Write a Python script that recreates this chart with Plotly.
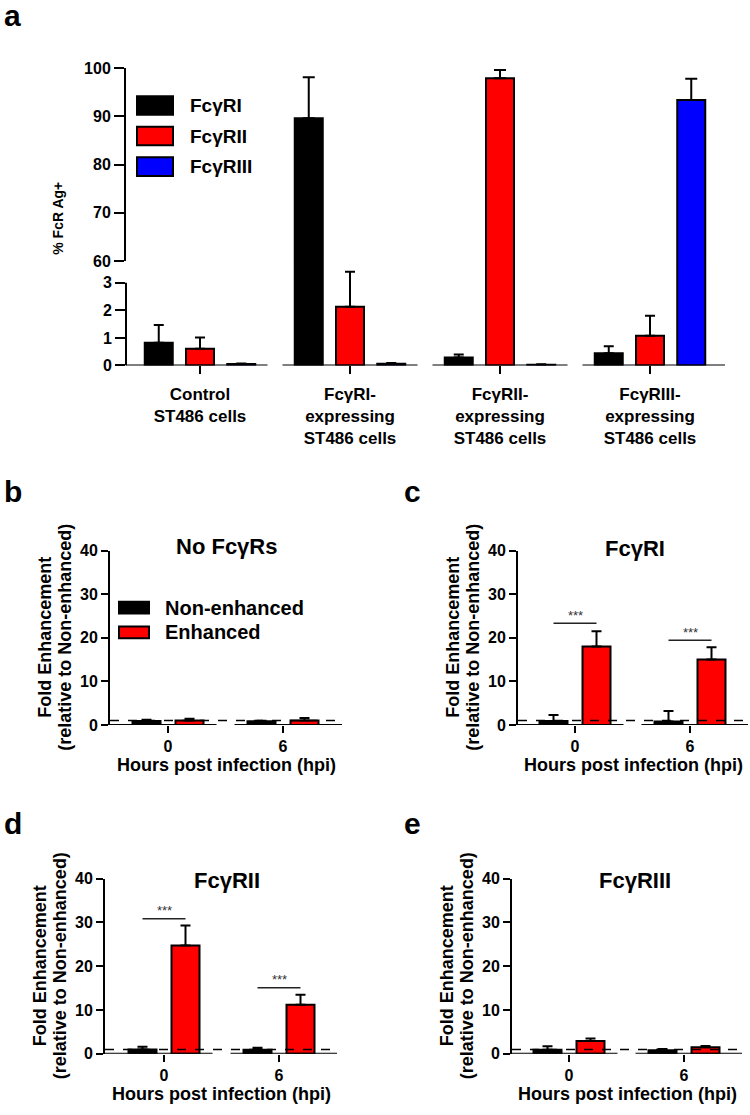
import plotly.graph_objects as go

W, H = 750, 1115
FONT = "Liberation Sans, Arial, Helvetica, sans-serif"
BLACK, RED, BLUE = "#000000", "#ff0000", "#0000ff"

# ---------------- data: panel a ----------------
cell_lines = ["Control<br>ST486 cells",
              "FcγRI-<br>expressing<br>ST486 cells",
              "FcγRII-<br>expressing<br>ST486 cells",
              "FcγRIII-<br>expressing<br>ST486 cells"]
receptors = ["FcγRI", "FcγRII", "FcγRIII"]
fcgr1_pct = [0.82, 89.6, 0.29, 0.44]
fcgr1_err = [0.65, 8.5, 0.11, 0.26]
fcgr2_pct = [0.61, 2.13, 97.9, 1.08]
fcgr2_err = [0.40, 1.27, 1.7, 0.72]
fcgr3_pct = [0.05, 0.06, 0.03, 93.4]
fcgr3_err = [0.02, 0.03, 0.01, 4.4]

# ---------------- data: panels b-e ----------------
hpi_labels = ["0", "6"]
conditions = ["Non-enhanced", "Enhanced"]
panel_titles = ["No FcγRs", "FcγRI", "FcγRII", "FcγRIII"]

nofcr_non = [0.9, 0.85]
nofcr_non_err = [0.3, 0.1]
nofcr_enh = [1.0, 1.0]
nofcr_enh_err = [0.4, 0.6]

fcr1_non = [0.9, 0.8]
fcr1_non_err = [1.4, 2.4]
fcr1_enh = [18.0, 15.0]
fcr1_enh_err = [3.5, 2.8]

fcr2_non = [1.0, 0.9]
fcr2_non_err = [0.6, 0.5]
fcr2_enh = [24.7, 11.2]
fcr2_enh_err = [4.6, 2.3]

fcr3_non = [0.9, 0.8]
fcr3_non_err = [0.8, 0.3]
fcr3_enh = [2.9, 1.5]
fcr3_enh_err = [0.6, 0.3]

sig_fcr1 = [23.3, 19.4]   # height of *** brackets
sig_fcr2 = [30.8, 15.1]
baseline_ref = 1.0        # dashed reference line


def px_x(p):
    return p / W


def px_y(p):
    return 1 - p / H


def bfont(size, color=BLACK, weight="bold"):
    return dict(family=FONT, size=size, color=color, weight=weight)


fig = go.Figure()
shapes = []
annotations = []

# ================= Panel a =================
A_X0, A_X1 = 126, 725
A_C0, A_STEP = 200, 150
a_range = [(A_X0 - A_C0) / A_STEP, (A_X1 - A_C0) / A_STEP]
A_LOW_BOT, A_LOW_3, A_SPLIT, A_TOP = 363, 279, 257, 61
low_top_val = (A_LOW_BOT - A_SPLIT) / ((A_LOW_BOT - A_LOW_3) / 3)

a_series = [(fcgr1_pct, fcgr1_err, BLACK), (fcgr2_pct, fcgr2_err, RED),
            (fcgr3_pct, fcgr3_err, BLUE)]
a_off = [-0.275, 0.0, 0.275]
a_w = 28 / A_STEP
xs = list(range(len(cell_lines)))
for (vals, errs, col), off, name in zip(a_series, a_off, receptors):
    low_err = [e if v + e < low_top_val else 0 for v, e in zip(vals, errs)]
    fig.add_trace(go.Bar(
        x=xs, y=vals, width=a_w, offset=off - a_w / 2, name=name,
        marker=dict(color=col, line=dict(color=BLACK, width=2)),
        error_y=dict(type="data", array=low_err, arrayminus=[0] * len(vals),
                     symmetric=False, color=BLACK, thickness=2, width=5),
        xaxis="x", yaxis="y", showlegend=False, hoverinfo="skip"))
    up_idx = [i for i, v in enumerate(vals) if v > 60]
    if up_idx:
        fig.add_trace(go.Bar(
            x=[xs[i] for i in up_idx], y=[vals[i] for i in up_idx],
            width=a_w, offset=off - a_w / 2, name=name,
            marker=dict(color=col, line=dict(color=BLACK, width=2)),
            error_y=dict(type="data", array=[errs[i] for i in up_idx],
                         arrayminus=[0] * len(up_idx), symmetric=False,
                         color=BLACK, thickness=2, width=6),
            xaxis="x2", yaxis="y2", showlegend=False, hoverinfo="skip"))

ax_common = dict(showgrid=False, zeroline=False, ticks="outside", tickwidth=2,
                 tickcolor=BLACK, linecolor=BLACK, linewidth=2, fixedrange=True)

layout = dict(
    xaxis=dict(domain=[px_x(A_X0), px_x(A_X1)], range=a_range, anchor="y",
               tickvals=xs, ticktext=cell_lines, ticklen=8, showline=False,
               tickfont=bfont(17), ticklabelstandoff=5, **ax_common),
    yaxis=dict(domain=[px_y(A_LOW_BOT), px_y(A_SPLIT)], range=[0, low_top_val],
               anchor="x", tickvals=[0, 1, 2, 3], ticklen=10, showline=False,
               tickfont=bfont(16), **ax_common),
    xaxis2=dict(domain=[px_x(A_X0), px_x(A_X1)], range=a_range, anchor="y2",
                visible=False, fixedrange=True),
    yaxis2=dict(domain=[px_y(A_SPLIT), px_y(A_TOP)], range=[60, 100],
                anchor="x2", tickvals=[60, 70, 80, 90, 100], ticklen=10,
                showline=True, tickfont=bfont(16), **ax_common),
)

# lower y-axis segment (broken axis)
shapes.append(dict(type="line", xref="x domain", x0=0, x1=0, yref="y", y0=0, y1=3,
                   line=dict(color=BLACK, width=2)))
# baseline segments
gap_a = 0.05
for i in xs:
    x0 = a_range[0] if i == 0 else i - 0.5 + gap_a
    x1 = a_range[1] if i == xs[-1] else i + 0.5 - gap_a
    shapes.append(dict(type="line", xref="x", yref="y", x0=x0, x1=x1, y0=0, y1=0,
                       line=dict(color=BLACK, width=2)))

# legend panel a
leg_rows = [99, 130, 161]
for (vals, errs, col), name, yc in zip(a_series, receptors, leg_rows):
    shapes.append(dict(type="rect", xref="paper", yref="paper",
                       x0=px_x(137), x1=px_x(173), y0=px_y(yc + 9.5), y1=px_y(yc - 9.5),
                       fillcolor=col, line=dict(color=BLACK, width=2)))
    annotations.append(dict(text=name, xref="paper", yref="paper", x=px_x(188), y=px_y(yc),
                            xanchor="left", yanchor="middle", showarrow=False,
                            font=bfont(19)))

annotations.append(dict(text="% FcR Ag+", xref="paper", yref="paper", x=px_x(58), y=px_y(214),
                        textangle=-90, showarrow=False, font=bfont(14),
                        xanchor="center", yanchor="middle"))

# ================= Panels b-e =================
panels = [
    dict(letter="b", title=panel_titles[0], non=nofcr_non, non_err=nofcr_non_err,
         enh=nofcr_enh, enh_err=nofcr_enh_err, sig=None,
         x0=110, x1=342, c0=168, ytop=551, ybot=728, title_xy=(226, 547),
         letter_xy=(2, 491), xtitle_y=769),
    dict(letter="c", title=panel_titles[1], non=fcr1_non, non_err=fcr1_non_err,
         enh=fcr1_enh, enh_err=fcr1_enh_err, sig=sig_fcr1,
         x0=518, x1=748, c0=575, ytop=551, ybot=728, title_xy=(635, 549),
         letter_xy=(402, 491), xtitle_y=769),
    dict(letter="d", title=panel_titles[2], non=fcr2_non, non_err=fcr2_non_err,
         enh=fcr2_enh, enh_err=fcr2_enh_err, sig=sig_fcr2,
         x0=105, x1=337, c0=164, ytop=884, ybot=1062, title_xy=(227, 886),
         letter_xy=(2, 828), xtitle_y=1103),
    dict(letter="e", title=panel_titles[3], non=fcr3_non, non_err=fcr3_non_err,
         enh=fcr3_enh, enh_err=fcr3_enh_err, sig=None,
         x0=512, x1=742, c0=569, ytop=884, ybot=1062, title_xy=(635, 886),
         letter_xy=(402, 828), xtitle_y=1103),
]
STEP = 115
bw = 28 / STEP
boff = 21.5 / STEP
gap = 9 / STEP
hx = list(range(len(hpi_labels)))

for k, p in enumerate(panels):
    n = k + 3
    xa, ya = f"x{n}", f"y{n}"
    rng = [(p["x0"] - p["c0"]) / STEP, (p["x1"] - p["c0"]) / STEP]
    layout[f"xaxis{n}"] = dict(domain=[px_x(p["x0"]), px_x(p["x1"])], range=rng, anchor=ya,
                               tickvals=hx, ticktext=hpi_labels, ticklen=7, showline=False,
                               tickfont=bfont(16), **ax_common)
    layout[f"yaxis{n}"] = dict(domain=[px_y(p["ybot"]), px_y(p["ytop"])], range=[0, 40],
                               anchor=xa, tickvals=[0, 10, 20, 30, 40], ticklen=7,
                               showline=True, tickfont=bfont(16), **ax_common)
    for vals, errs, col, off, name in [(p["non"], p["non_err"], BLACK, -boff, conditions[0]),
                                       (p["enh"], p["enh_err"], RED, boff, conditions[1])]:
        fig.add_trace(go.Bar(
            x=hx, y=vals, width=bw, offset=off - bw / 2, name=name,
            marker=dict(color=col, line=dict(color=BLACK, width=2)),
            error_y=dict(type="data", array=errs, arrayminus=[0] * len(vals), symmetric=False,
                         color=BLACK, thickness=2, width=5),
            xaxis=xa, yaxis=ya, showlegend=False, hoverinfo="skip"))
    # baseline segments
    for i in hx:
        x0 = rng[0] if i == 0 else i - 0.5 + gap
        x1 = rng[1] if i == hx[-1] else i + 0.5 - gap
        shapes.append(dict(type="line", xref=xa, yref=ya, x0=x0, x1=x1, y0=0, y1=0,
                           line=dict(color=BLACK, width=2)))
    # dashed reference line at 1
    shapes.append(dict(type="line", xref=f"{xa} domain", yref=ya, x0=0, x1=1,
                       y0=baseline_ref, y1=baseline_ref,
                       line=dict(color=BLACK, width=1.5, dash="dash")))
    # significance brackets
    if p["sig"]:
        for i, h in zip(hx, p["sig"]):
            shapes.append(dict(type="line", xref=xa, yref=ya, x0=i - boff, x1=i + boff,
                               y0=h, y1=h, line=dict(color="#222222", width=1.5)))
            annotations.append(dict(text="***", xref=xa, yref=ya, x=i, y=h, yshift=8,
                                    showarrow=False, font=bfont(13, "#333333", "normal"),
                                    xanchor="center", yanchor="middle"))
    # titles
    tx, ty = p["title_xy"]
    annotations.append(dict(text=p["title"], xref="paper", yref="paper", x=px_x(tx), y=px_y(ty),
                            showarrow=False, font=bfont(22), xanchor="center", yanchor="middle"))
    # axis titles
    ymid = (p["ytop"] + p["ybot"]) / 2
    annotations.append(dict(text="Fold Enhancement", xref="paper", yref="paper",
                            x=px_x(p["x0"] - 65), y=px_y(ymid), textangle=-90, showarrow=False,
                            font=bfont(18), xanchor="center", yanchor="middle"))
    annotations.append(dict(text="(relative to Non-enhanced)", xref="paper", yref="paper",
                            x=px_x(p["x0"] - 45), y=px_y(ymid), textangle=-90, showarrow=False,
                            font=bfont(18), xanchor="center", yanchor="middle"))
    annotations.append(dict(text="Hours post infection (hpi)", xref=f"{xa} domain", yref="paper",
                            x=0.5, y=px_y(p["xtitle_y"]), showarrow=False, font=bfont(18),
                            xanchor="center", yanchor="middle"))
    # panel letter
    lx, ly = p["letter_xy"]
    annotations.append(dict(text=p["letter"], xref="paper", yref="paper", x=px_x(lx), y=px_y(ly),
                            showarrow=False, font=bfont(30), xanchor="left", yanchor="middle"))

annotations.append(dict(text="a", xref="paper", yref="paper", x=px_x(2), y=px_y(8),
                        showarrow=False, font=bfont(30), xanchor="left", yanchor="middle"))

# legend for panel b
for name, col, yc in zip(conditions, [BLACK, RED], [609, 634]):
    shapes.append(dict(type="rect", xref="paper", yref="paper",
                       x0=px_x(119), x1=px_x(149), y0=px_y(yc + 6), y1=px_y(yc - 6),
                       fillcolor=col, line=dict(color=BLACK, width=2)))
    annotations.append(dict(text=name, xref="paper", yref="paper", x=px_x(163), y=px_y(yc),
                            xanchor="left", yanchor="middle", showarrow=False, font=bfont(20)))

fig.update_layout(
    **layout,
    width=W, height=H, margin=dict(l=0, r=0, t=0, b=0),
    paper_bgcolor="white", plot_bgcolor="white",
    barmode="overlay", showlegend=False,
    shapes=shapes, annotations=annotations,
    font=dict(family=FONT, color=BLACK),
)

fig.write_html("out.html", config={"displayModeBar": False},
               post_script="document.body.style.margin='0';")
